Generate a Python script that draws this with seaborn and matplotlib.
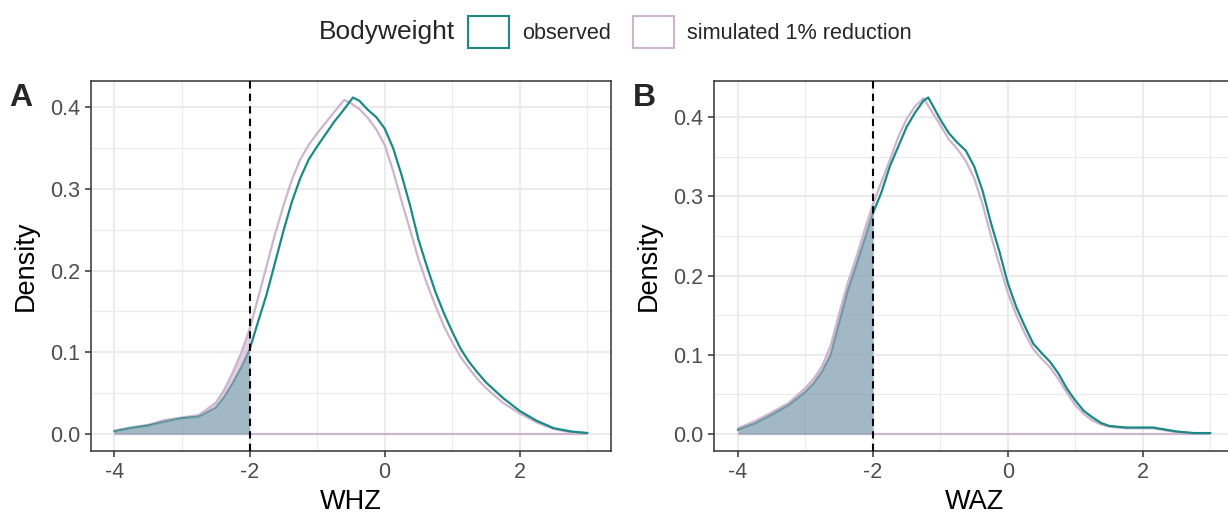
import seaborn as sns
import matplotlib.pyplot as plt
import numpy as np
import pandas as pd
from matplotlib.patches import Patch

# ---- datos ----
# Panel A: WHZ
whz_x_obs = [-4.0, -3.75, -3.5, -3.25, -3.0, -2.75, -2.5, -2.375, -2.25, -2.125, -2.0, -1.875, -1.75,
             -1.625, -1.5, -1.375, -1.25, -1.125, -1.0, -0.875, -0.75, -0.625, -0.47, -0.375, -0.25,
             -0.125, 0.0, 0.125, 0.25, 0.375, 0.5, 0.625, 0.75, 0.875, 1.0, 1.125, 1.25, 1.375, 1.5,
             1.75, 2.0, 2.25, 2.5, 2.75, 3.0]
whz_obs = [0.003, 0.007, 0.010, 0.015, 0.019, 0.021, 0.032, 0.045, 0.062, 0.081, 0.103, 0.137, 0.170,
           0.209, 0.248, 0.284, 0.313, 0.336, 0.352, 0.367, 0.382, 0.395, 0.412, 0.408, 0.397,
           0.388, 0.374, 0.350, 0.317, 0.280, 0.238, 0.205, 0.174, 0.148, 0.125, 0.104, 0.088, 0.075, 0.063,
           0.044, 0.028, 0.016, 0.007, 0.003, 0.001]
whz_x_sim = [-4.0, -3.75, -3.5, -3.25, -3.0, -2.75, -2.5, -2.375, -2.25, -2.125, -2.0, -1.875, -1.75,
             -1.625, -1.5, -1.375, -1.25, -1.125, -1.0, -0.875, -0.75, -0.6, -0.5, -0.375, -0.25,
             -0.125, 0.0, 0.125, 0.25, 0.375, 0.5, 0.625, 0.75, 0.875, 1.0, 1.125, 1.25, 1.375, 1.5,
             1.75, 2.0, 2.25, 2.5, 2.75, 3.0]
whz_sim = [0.004, 0.008, 0.011, 0.017, 0.020, 0.023, 0.038, 0.054, 0.075, 0.099, 0.128, 0.166, 0.205,
           0.244, 0.279, 0.311, 0.336, 0.354, 0.368, 0.381, 0.394, 0.409, 0.405, 0.398, 0.387,
           0.373, 0.354, 0.322, 0.285, 0.250, 0.214, 0.184, 0.157, 0.132, 0.112, 0.094, 0.080, 0.067, 0.056,
           0.038, 0.025, 0.014, 0.006, 0.002, 0.001]

# Panel B: WAZ
waz_x_obs = [-4.0, -3.75, -3.5, -3.25, -3.0, -2.875, -2.75, -2.625, -2.5, -2.375, -2.25, -2.125, -2.0,
             -1.875, -1.75, -1.625, -1.5, -1.375, -1.25, -1.18, -1.0, -0.875, -0.75, -0.625, -0.5,
             -0.375, -0.25, -0.125, 0.0, 0.125, 0.25, 0.375, 0.5, 0.625, 0.75, 0.875, 1.0, 1.125,
             1.25, 1.375, 1.5, 1.75, 2.0, 2.15, 2.5, 2.75, 3.0]
waz_obs = [0.005, 0.013, 0.024, 0.036, 0.053, 0.064, 0.079, 0.100, 0.140, 0.180, 0.212, 0.245, 0.279,
           0.305, 0.338, 0.363, 0.388, 0.406, 0.421, 0.425, 0.397, 0.380, 0.368, 0.358, 0.338,
           0.307, 0.266, 0.230, 0.190, 0.160, 0.136, 0.114, 0.102, 0.091, 0.076, 0.057, 0.042, 0.029,
           0.021, 0.014, 0.010, 0.008, 0.008, 0.008, 0.003, 0.001, 0.001]
waz_x_sim = [-4.0, -3.75, -3.5, -3.25, -3.0, -2.875, -2.75, -2.625, -2.5, -2.375, -2.25, -2.125, -2.0,
             -1.875, -1.75, -1.625, -1.5, -1.375, -1.25, -1.0, -0.875, -0.75, -0.625, -0.5,
             -0.375, -0.25, -0.125, 0.0, 0.125, 0.25, 0.375, 0.5, 0.625, 0.75, 0.875, 1.0, 1.125,
             1.25, 1.375, 1.5, 1.75, 2.0, 2.15, 2.5, 2.75, 3.0]
waz_sim = [0.007, 0.016, 0.027, 0.039, 0.058, 0.070, 0.086, 0.112, 0.152, 0.190, 0.222, 0.257, 0.290,
           0.318, 0.346, 0.375, 0.398, 0.414, 0.424, 0.390, 0.372, 0.360, 0.345, 0.323,
           0.290, 0.250, 0.213, 0.178, 0.150, 0.127, 0.107, 0.095, 0.084, 0.069, 0.052, 0.036, 0.025,
           0.017, 0.012, 0.009, 0.007, 0.007, 0.007, 0.002, 0.001, 0.001]

corte = -2
grupos = ["observed", "simulated 1% reduction"]
titulo_leyenda = "Bodyweight"
letras = ["A", "B"]
titulos_x = ["WHZ", "WAZ"]
ticks_x = [-4, -2, 0, 2]
ticks_y = [0.0, 0.1, 0.2, 0.3, 0.4]

COL_OBS = "#1B8A86"
COL_SIM = "#CBB6CE"
FILL_SIM = "#C9A7C7"
FILL_OBS = "#78A7B0"

sns.set_theme(style="white")
plt.rcParams['font.family'] = ['Liberation Sans', 'DejaVu Sans']

fig = plt.figure(figsize=(12.28, 5.14), dpi=100)
axA = fig.add_axes([0.0739, 0.1232, 0.4237, 0.7198])
axB = fig.add_axes([0.5817, 0.1232, 0.4232, 0.7198])


def panel(ax, xo, yo, xs, ys, titulo, letra):
    df = pd.concat([
        pd.DataFrame({'z': xo, 'density': yo, 'grupo': grupos[0]}),
        pd.DataFrame({'z': xs, 'density': ys, 'grupo': grupos[1]}),
    ])
    sns.lineplot(data=df, x='z', y='density', hue='grupo', hue_order=[grupos[1], grupos[0]],
                 palette={grupos[0]: COL_OBS, grupos[1]: COL_SIM}, estimator=None,
                 lw=1.6, legend=False, ax=ax, zorder=3, solid_joinstyle='round')
    xo, yo, xs, ys = map(np.asarray, (xo, yo, xs, ys))
    zmin, zmax = min(xo.min(), xs.min()), max(xo.max(), xs.max())
    ax.hlines(0, zmin, zmax, color=COL_SIM, lw=1.6, zorder=2.9)
    m = xs <= corte
    ax.fill_between(xs[m], ys[m], color=FILL_SIM, alpha=0.5, lw=0, zorder=3.2)
    m = xo <= corte
    ax.fill_between(xo[m], yo[m], color=FILL_OBS, alpha=0.6, lw=0, zorder=3.3)
    ax.axvline(corte, color='black', ls=(0, (3.5, 2.5)), lw=1.5, zorder=4)

    # escalas tipo ggplot (5% de expansion)
    rng = zmax - zmin
    ax.set_xlim(zmin - 0.05 * rng, zmax + 0.05 * rng)
    ymax = max(yo.max(), ys.max())
    ax.set_ylim(-0.05 * ymax, 1.05 * ymax)

    ax.set_xticks(ticks_x)
    ax.set_xticklabels([str(t) for t in ticks_x])
    ax.set_yticks(ticks_y)
    ax.set_yticklabels([f"{t:.1f}" for t in ticks_y])
    ax.set_xticks([-3, -1, 1, 3], minor=True)
    ax.set_yticks([0.05, 0.15, 0.25, 0.35], minor=True)
    ax.grid(which='major', color='#EBEBEB', lw=1.5, zorder=0)
    ax.grid(which='minor', color='#EBEBEB', lw=0.8, zorder=0)
    ax.set_axisbelow(True)
    ax.tick_params(which='major', length=4.3, width=1.1, color='#333333',
                   labelcolor='#4D4D4D', labelsize=15.5, pad=3.5, bottom=True, left=True)
    ax.tick_params(which='minor', length=0)
    for s in ax.spines.values():
        s.set_color('#333333')
        s.set_linewidth(1.1)
    ax.set_xlabel(titulo, fontsize=19.5, color='black', labelpad=5)
    ax.set_ylabel('Density', fontsize=19.5, color='black', labelpad=8)
    pos = ax.get_position()
    fig.text(pos.x0 - 0.066, pos.y1 - 0.005, letra, fontsize=23, fontweight='bold',
             ha='left', va='top')


panel(axA, whz_x_obs, whz_obs, whz_x_sim, whz_sim, titulos_x[0], letras[0])
panel(axB, waz_x_obs, waz_obs, waz_x_sim, waz_sim, titulos_x[1], letras[1])

# leyenda arriba
fig.text(0.3705, 0.9377, titulo_leyenda, fontsize=19, ha='right', va='center')
handles = [Patch(facecolor='white', edgecolor=COL_OBS, lw=1.5, label=grupos[0]),
           Patch(facecolor='white', edgecolor=COL_SIM, lw=1.5, label=grupos[1])]
fig.legend(handles=handles, loc='center left', bbox_to_anchor=(0.381, 0.9377), ncol=2,
           frameon=False, fontsize=15.6, handlelength=1.9, handleheight=1.9,
           handletextpad=0.6, columnspacing=1.0, borderpad=0, borderaxespad=0)

fig.savefig('out.png', dpi=100)
